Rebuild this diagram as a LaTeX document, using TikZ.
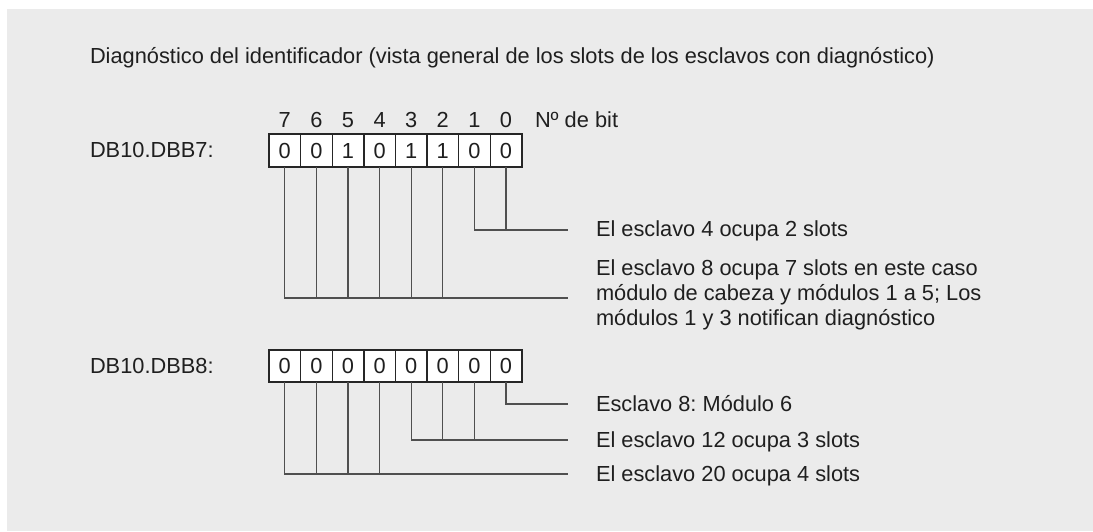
\documentclass[tikz,border=0pt]{standalone}
\usepackage{fontspec}
\setmainfont{Liberation Sans}
\definecolor{bg}{HTML}{EBEBEB}
\definecolor{txt}{HTML}{1F1F1F}
\definecolor{ln}{HTML}{4F4F4F}
\definecolor{bx}{HTML}{262626}
\begin{document}
\frenchspacing
\begin{tikzpicture}[x=1pt,y=-1pt,
  lbl/.style={font=\fontsize{21.8}{25}\selectfont, text=txt, inner sep=0pt, outer sep=0pt},
  cell/.style={lbl, draw=bx, line width=1.4pt, fill=white, minimum width=31.6pt, minimum height=33pt, anchor=center},
  cellb/.style={cell, minimum height=32pt},
  conn/.style={draw=ln, line width=1.1pt}
]
\useasboundingbox (0,0) rectangle (1093,531);
\fill[bg] (7,9) rectangle (1093,531);

\node[lbl, anchor=base west] (title) at (90,63) {Diagnóstico del identificador (vista general de los slots de los esclavos con diagnóstico)};

\node[lbl, anchor=base west] (db7) at (90,157.5) {DB10.DBB7:};
\node[lbl, anchor=base west] (db8) at (90,373.5) {DB10.DBB8:};

% register 1
\foreach \v [count=\i from 0] in {0,0,1,0,1,1,0,0} {
  \pgfmathtruncatemacro\b{7-\i}
  \node[lbl] (n\b) at ({269+31.6*(\i+0.5)},120) {\b};
  \node[cell] (a\b) at ({269+31.6*(\i+0.5)},150.5) {\v};
}
\node[lbl, anchor=base west] (nbit) at (535,127.5) {Nº de bit};

% register 2
\foreach \v [count=\i from 0] in {0,0,0,0,0,0,0,0} {
  \pgfmathtruncatemacro\b{7-\i}
  \node[cellb] (c\b) at ({269+31.6*(\i+0.5)},366) {\v};
}

% end points
\coordinate (e1) at (568,230);
\coordinate (e2) at (568,298);
\coordinate (e3) at (568,404);
\coordinate (e4) at (568,440);
\coordinate (e5) at (568,474);

% connectors register 1
\draw[conn] (a1.south) |- (e1);
\draw[conn] (a0.south) -- (a0.south |- e1);
\draw[conn] (a7.south) |- (e2);
\foreach \k in {2,...,6} { \draw[conn] (a\k.south) -- (a\k.south |- e2); }

% connectors register 2
\draw[conn] (c0.south) |- (e3);
\draw[conn] (c3.south) |- (e4);
\foreach \k in {1,2} { \draw[conn] (c\k.south) -- (c\k.south |- e4); }
\draw[conn] (c7.south) |- (e5);
\foreach \k in {4,5,6} { \draw[conn] (c\k.south) -- (c\k.south |- e5); }

% texts
\node[lbl, anchor=base west] (t1) at (596,236.5) {El esclavo 4 ocupa 2 slots};
\node[lbl, anchor=base west] (t2a) at (596,275) {El esclavo 8 ocupa 7 slots en este caso};
\node[lbl, anchor=base west] (t2b) at (596,300) {módulo de cabeza y módulos 1 a 5; Los};
\node[lbl, anchor=base west] (t2c) at (596,325) {módulos 1 y 3 notifican diagnóstico};
\node[lbl, anchor=base west] (t3) at (596,411) {Esclavo 8: Módulo 6};
\node[lbl, anchor=base west] (t4) at (596,447) {El esclavo 12 ocupa 3 slots};
\node[lbl, anchor=base west] (t5) at (596,481.5) {El esclavo 20 ocupa 4 slots};
\end{tikzpicture}
\end{document}
